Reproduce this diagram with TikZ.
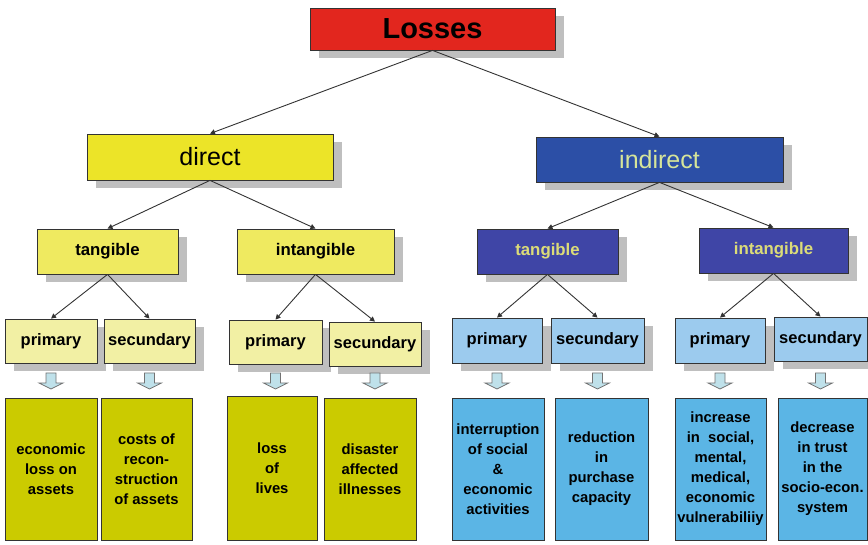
\documentclass[tikz,border=0pt]{standalone}
\usepackage{fontspec}
\setmainfont{Liberation Sans}
\usetikzlibrary{shadows,arrows.meta}
\definecolor{lred}{HTML}{E2261E}
\definecolor{dyel}{HTML}{ECE428}
\definecolor{tyel}{HTML}{EFEA60}
\definecolor{pyel}{HTML}{F2F0A4}
\definecolor{byel}{HTML}{CBCB00}
\definecolor{iblue}{HTML}{2C4FA6}
\definecolor{tblue}{HTML}{3F45A6}
\definecolor{pblue}{HTML}{9CCBEE}
\definecolor{bblue}{HTML}{5BB5E5}
\definecolor{itext}{HTML}{D6E59A}
\definecolor{ttext}{HTML}{DCDC78}
\definecolor{abl}{HTML}{BFE1EA}
\definecolor{edge}{HTML}{333333}
\begin{document}
\begin{tikzpicture}[x=1pt,y=-1pt,
  box/.style={draw=edge,line width=0.8pt,inner sep=0pt,align=center},
  shad/.style={drop shadow={shadow xshift=9pt,shadow yshift=-8pt,fill=black!25,opacity=1}},
  lvl1/.style={box,shad,fill=lred,font=\fontsize{29}{30}\selectfont\bfseries},
  dirbox/.style={box,shad,fill=dyel,font=\fontsize{25}{26}\selectfont},
  indbox/.style={box,shad,fill=iblue,text=itext,font=\fontsize{25}{26}\selectfont},
  dtan/.style={box,shad,fill=tyel,font=\fontsize{16.8}{18}\selectfont\bfseries},
  itan/.style={box,shad,fill=tblue,text=ttext,font=\fontsize{16.8}{18}\selectfont\bfseries},
  dprim/.style={box,shad,fill=pyel,font=\fontsize{16.5}{18}\selectfont\bfseries},
  iprim/.style={box,shad,fill=pblue,font=\fontsize{16.5}{18}\selectfont\bfseries},
  dbot/.style={box,fill=byel,font=\fontsize{14.8}{20}\selectfont\bfseries},
  ibot/.style={box,fill=bblue,font=\fontsize{14.8}{20}\selectfont\bfseries},
  conn/.style={draw=edge,line width=0.9pt,-{Triangle[length=5pt,width=5pt]}},
  blockarr/.pic={\draw[fill=abl,draw=black!55,line width=0.8pt] (-5,-7) -- (-5,3) -- (-12,3) -- (0,9) -- (12,3) -- (5,3) -- (5,-7) -- cycle;}
]
\useasboundingbox (0,0) rectangle (868,545);
% level 1
\node[lvl1,minimum width=245pt,minimum height=42pt] (L) at (432.5,29) {Losses};
% level 2
\node[dirbox,minimum width=246pt,minimum height=46pt] (D) at (210,157) {direct};
\node[indbox,minimum width=247pt,minimum height=45pt] (I) at (659.5,159.5) {indirect};
% level 3
\node[dtan,minimum width=141pt,minimum height=45pt] (DT) at (107.5,251.5) {tangible};
\node[dtan,minimum width=157pt,minimum height=45pt] (DI) at (315.5,251.5) {intangible};
\node[itan,minimum width=141pt,minimum height=45pt] (IT) at (547.5,251.5) {tangible};
\node[itan,minimum width=149pt,minimum height=45pt] (II) at (773.5,250.5) {intangible};
% level 4
\node[dprim,minimum width=92pt,minimum height=44pt] (P1) at (51,341) {primary};
\node[dprim,minimum width=91pt,minimum height=44pt] (S1) at (149.5,341) {secundary};
\node[dprim,minimum width=93pt,minimum height=44pt] (P2) at (275.5,342) {primary};
\node[dprim,minimum width=92pt,minimum height=44pt] (S2) at (375,344) {secundary};
\node[iprim,minimum width=90pt,minimum height=45pt] (P3) at (497,340.5) {primary};
\node[iprim,minimum width=93pt,minimum height=45pt] (S3) at (597.5,340.5) {secundary};
\node[iprim,minimum width=90pt,minimum height=45pt] (P4) at (720,340.5) {primary};
\node[iprim,minimum width=93pt,minimum height=44pt] (S4) at (820.5,339) {secundary};
% bottom boxes
\node[dbot,minimum width=92pt,minimum height=142pt] (B1) at (51,469) {economic\\loss on\\assets};
\node[dbot,minimum width=91pt,minimum height=142pt] (B2) at (146.5,469) {costs of\\recon-\\struction\\of assets};
\node[dbot,minimum width=90pt,minimum height=144pt] (B3) at (272,468) {loss\\of\\lives};
\node[dbot,minimum width=92pt,minimum height=142pt] (B4) at (370,469) {disaster\\affected\\illnesses};
\node[ibot,minimum width=92pt,minimum height=142pt] (B5) at (498,469) {interruption\\of social\\\&\\economic\\activities};
\node[ibot,minimum width=93pt,minimum height=142pt] (B6) at (601.5,469) {reduction\\in\\purchase\\capacity};
\node[ibot,minimum width=91pt,minimum height=142pt] (B7) at (720.5,469) {increase\\in\ \ social,\\mental,\\medical,\\economic\\vulnerabiliiy};
\node[ibot,minimum width=89pt,minimum height=142pt] (B8) at (822.5,469) {decrease\\in trust\\in the\\socio-econ.\\system};
% connectors
\draw[conn] (L.south) -- (D.north);
\draw[conn] (L.south) -- (I.north);
\draw[conn] (D.south) -- (DT.north);
\draw[conn] (D.south) -- (DI.north);
\draw[conn] (I.south) -- (IT.north);
\draw[conn] (I.south) -- (II.north);
\draw[conn] (DT.south) -- (P1.north);
\draw[conn] (DT.south) -- (S1.north);
\draw[conn] (DI.south) -- (P2.north);
\draw[conn] (DI.south) -- (S2.north);
\draw[conn] (IT.south) -- (P3.north);
\draw[conn] (IT.south) -- (S3.north);
\draw[conn] (II.south) -- (P4.north);
\draw[conn] (II.south) -- (S4.north);
% block arrows
\coordinate (arow) at (0,380);
\foreach \n in {P1,S1,P2,S2,P3,S3,P4,S4}{
  \path (\n.south |- arow) pic {blockarr};
}
\end{tikzpicture}
\end{document}
